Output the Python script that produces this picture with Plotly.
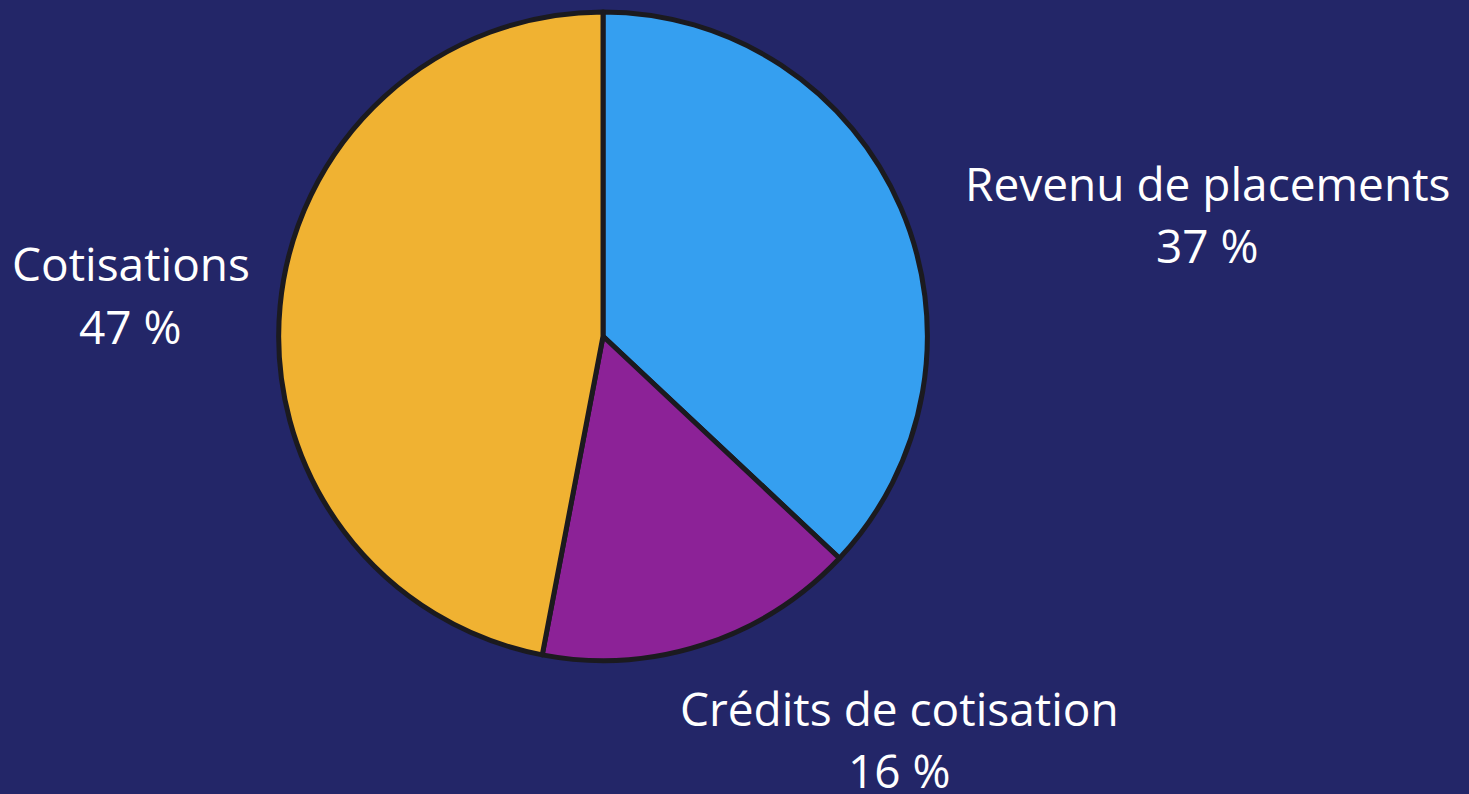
import plotly.graph_objects as go

# data
labels = ["Revenu de placements", "Crédits de cotisation", "Cotisations"]
values = [37, 16, 47]
pct_text = ["37 %", "16 %", "47 %"]
colours = ["#359ff0", "#8c2297", "#f0b232"]

# label positions (paper coords): x centre, y of first line, y of second line
label_pos = [
    (0.822, 0.770, 0.692),
    (0.612, 0.108, 0.030),
    (0.089, 0.669, 0.590),
]

fig = go.Figure(
    go.Pie(
        labels=labels,
        values=values,
        sort=False,
        direction="clockwise",
        rotation=0,
        marker=dict(colors=colours, line=dict(color="#1b1a1f", width=5)),
        textinfo="none",
        hoverinfo="label+percent",
        showlegend=False,
        domain=dict(x=[0.189, 0.632], y=[0.168, 0.985]),
    )
)

for name, pct, (x, y1, y2) in zip(labels, pct_text, label_pos):
    fig.add_annotation(x=x, y=y1, xref="paper", yref="paper", text=name,
                       showarrow=False, xanchor="center", yanchor="middle")
    fig.add_annotation(x=x, y=y2, xref="paper", yref="paper", text=pct,
                       showarrow=False, xanchor="center", yanchor="middle")

fig.update_annotations(font=dict(family="Open Sans", size=46, color="white"))

fig.update_layout(
    width=1469,
    height=794,
    margin=dict(l=0, r=0, t=0, b=0),
    paper_bgcolor="#232668",
    plot_bgcolor="#232668",
)

# drop the default page margin so the figure fills the window
fig.write_html(
    "out.html",
    config={"displayModeBar": False},
    post_script="document.body.style.margin='0';"
                "document.body.style.background='#232668';",
)
